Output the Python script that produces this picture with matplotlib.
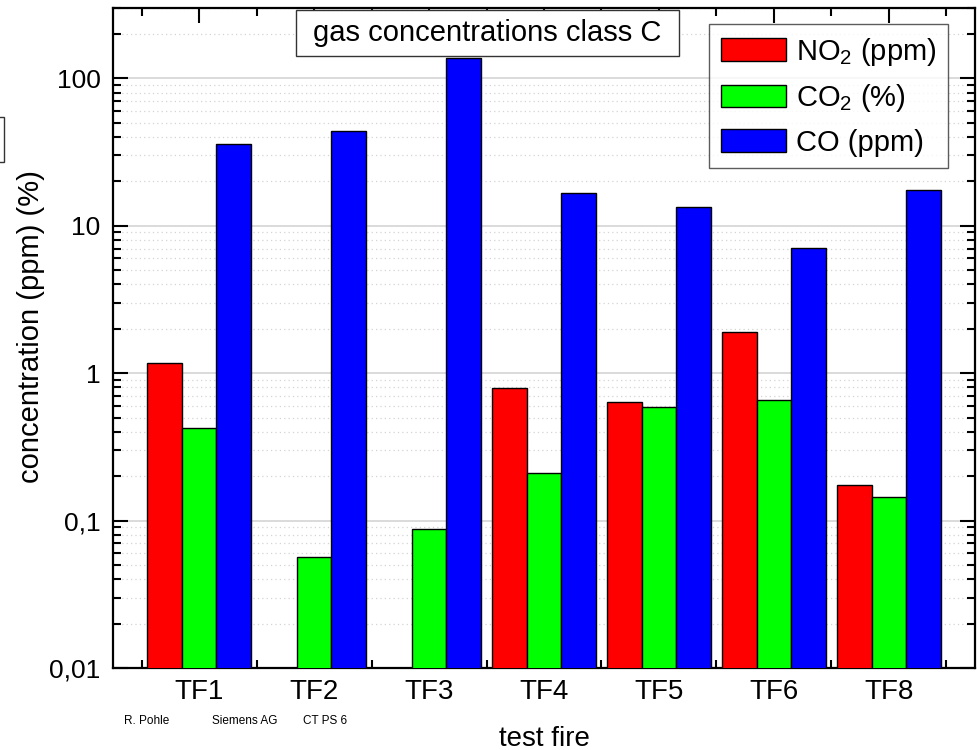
import matplotlib
matplotlib.use("Agg")
import matplotlib.pyplot as plt
from matplotlib.patches import Rectangle
from matplotlib.ticker import FixedLocator, FixedFormatter, LogLocator, NullFormatter
import numpy as np

plt.rcParams["font.family"] = ["Liberation Sans", "DejaVu Sans"]
plt.rcParams["mathtext.fontset"] = "custom"
plt.rcParams["mathtext.rm"] = "Liberation Sans"
plt.rcParams["mathtext.it"] = "Liberation Sans:italic"

# ---------------------------------------------------------------------------
# Data
# ---------------------------------------------------------------------------
fires = ["TF1", "TF2", "TF3", "TF4", "TF5", "TF6", "TF8"]
no2_ppm = [1.17, np.nan, np.nan, 0.79, 0.64, 1.9, 0.173]
co2_pct = [0.426, 0.056, 0.086, 0.208, 0.586, 0.658, 0.144]
co_ppm = [35.6, 43.6, 137.0, 16.6, 13.4, 7.08, 17.4]
series_labels = ["NO$_2$ (ppm)", "CO$_2$ (%)", "CO (ppm)"]
ytick_vals = [0.01, 0.1, 1, 10, 100]
ytick_text = ["0,01", "0,1", "1", "10", "100"]

C_RED = "#FF0000"
C_GREEN = "#00FF00"
C_BLUE = "#0000FF"

fig = plt.figure(figsize=(9.78, 7.5), dpi=100)
ax = fig.add_axes([113 / 978, 82 / 750, 862 / 978, 660 / 750])

x = np.arange(1, len(fires) + 1)
w = 0.3
for off, vals, col, lab in [(-w, no2_ppm, C_RED, series_labels[0]),
                            (0.0, co2_pct, C_GREEN, series_labels[1]),
                            (w, co_ppm, C_BLUE, series_labels[2])]:
    ax.bar(x + off, vals, width=w, bottom=0.001, color=col,
           edgecolor="black", linewidth=1.0, label=lab, zorder=3)

ax.set_yscale("log")
ax.set_ylim(0.01, 300)
ax.set_xlim(0.25, 7.75)

# y ticks
ax.yaxis.set_major_locator(FixedLocator(ytick_vals))
ax.yaxis.set_major_formatter(FixedFormatter(ytick_text))
ax.yaxis.set_minor_locator(LogLocator(base=10, subs=np.arange(2, 10)))
ax.yaxis.set_minor_formatter(NullFormatter())

# x ticks
ax.set_xticks(x)
ax.set_xticklabels(fires)
ax.set_xticks(np.arange(0.5, 8.0, 1.0), minor=True)

ax.tick_params(axis="both", which="major", direction="in", length=11,
               width=1.5, top=True, right=True)
ax.tick_params(axis="both", which="minor", direction="in", length=5.5,
               width=1.5, top=True, right=True)
ax.tick_params(axis="y", which="major", labelsize=19, pad=9)
ax.tick_params(axis="x", which="major", labelsize=20, pad=8)

for sp in ax.spines.values():
    sp.set_linewidth(1.6)

ax.grid(True, which="major", axis="y", color="#d4d4d4", lw=1.2, zorder=0)
ax.grid(True, which="minor", axis="y", color="#d4d4d4", lw=0.9,
        ls=(0, (1, 2.5)), zorder=0)

ax.set_ylabel("concentration (ppm) (%)", fontsize=21)
ax.yaxis.set_label_coords(-0.079, 0.518)
ax.set_xlabel("test fire", fontsize=20, labelpad=15)

# title box inside the plot
ax.add_patch(Rectangle((0.2123, 0.9273), 0.4443, 0.0697, transform=ax.transAxes,
                       fc="white", ec="#333333", lw=1.0, zorder=5))
ax.text(0.4339, 0.962, "gas concentrations class C", transform=ax.transAxes,
        fontsize=21, ha="center", va="center", zorder=6)

leg = ax.legend(loc="upper right", bbox_to_anchor=(0.9687, 0.9758),
                fontsize=21, frameon=True, fancybox=False, edgecolor="#333333",
                handlelength=2.23, handleheight=0.82, handletextpad=0.34,
                labelspacing=0.5, borderpad=0.4, borderaxespad=0.0)
leg.get_frame().set_linewidth(1.0)
leg.set_zorder(6)

# clipped box at the left edge
fig.patches.append(Rectangle((-0.01, 588 / 750), 0.0144, 45 / 750,
                             transform=fig.transFigure, fill=False,
                             ec="#333333", lw=1.0))

# footer
for txt, xp in [("R. Pohle", 124), ("Siemens AG", 212), ("CT PS 6", 303)]:
    fig.text(xp / 978, 1 - 721 / 750, txt, fontsize=8.5, ha="left", va="center")

fig.savefig("out.png", dpi=100, facecolor="white")
